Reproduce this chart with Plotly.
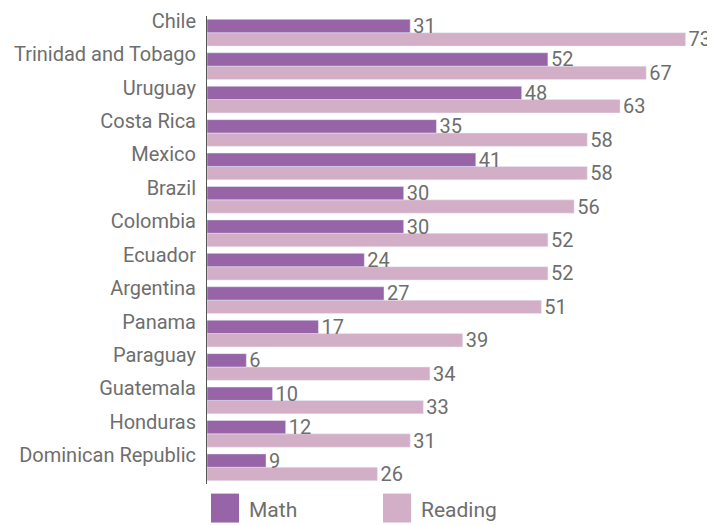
import plotly.graph_objects as go

countries = ["Chile", "Trinidad and Tobago", "Uruguay", "Costa Rica", "Mexico", "Brazil",
             "Colombia", "Ecuador", "Argentina", "Panama", "Paraguay", "Guatemala",
             "Honduras", "Dominican Republic"]
math = [31, 52, 48, 35, 41, 30, 30, 24, 27, 17, 6, 10, 12, 9]
reading = [73, 67, 63, 58, 58, 56, 52, 52, 51, 39, 34, 33, 31, 26]

MATH_C = "#9764a8"
READ_C = "#d3aec7"
TXT_C = "#6e6e6e"
FONT = "Roboto, Liberation Sans, Arial, sans-serif"

# bottom-to-top order so that Chile sits at top
cats = countries[::-1]
m = math[::-1]
r = reading[::-1]

fig = go.Figure()
# Reading trace first so that in horizontal grouped bars Math appears above Reading
fig.add_trace(go.Bar(y=cats, x=r, orientation="h", name="Reading", marker_color=READ_C,
                     text=[str(v) for v in r], textposition="outside", cliponaxis=False,
                     constraintext="none", textfont=dict(size=20, color=TXT_C, family=FONT)))
fig.add_trace(go.Bar(y=cats, x=m, orientation="h", name="Math", marker_color=MATH_C,
                     text=[str(v) for v in m], textposition="outside", cliponaxis=False,
                     constraintext="none", textfont=dict(size=20, color=TXT_C, family=FONT)))

fig.update_layout(
    width=707, height=517,
    margin=dict(l=199, r=15, t=8, b=41, autoexpand=False),
    barmode="group", bargap=0.2, bargroupgap=0,
    plot_bgcolor="white", paper_bgcolor="white",
    showlegend=False,
    font=dict(family=FONT, color=TXT_C, size=20),
    xaxis=dict(range=[0, 75.2], visible=False, showgrid=False, zeroline=False, automargin=False),
    yaxis=dict(type="category", categoryorder="array", categoryarray=cats, automargin=False,
               showline=True, linecolor="#555555", linewidth=1, showgrid=False,
               ticks="", ticklabelshift=-12, ticklabelstandoff=6,
               tickfont=dict(size=20, color=TXT_C, family=FONT)),
)

# legend drawn as shapes + text
legend_items = [("Math", MATH_C, 0.0081, 0.0649, 0.081), ("Reading", READ_C, 0.357, 0.414, 0.43)]
for name, col, x0, x1, xt in legend_items:
    fig.add_shape(type="rect", xref="paper", yref="paper", x0=x0, x1=x1, y0=-0.0824, y1=-0.0205,
                  fillcolor=col, line=dict(width=0))
    fig.add_annotation(text=name, xref="paper", yref="paper", x=xt, y=-0.0547, xanchor="left",
                       yanchor="middle", showarrow=False, font=dict(size=21, color=TXT_C, family=FONT))

fig.write_html("out.html")
